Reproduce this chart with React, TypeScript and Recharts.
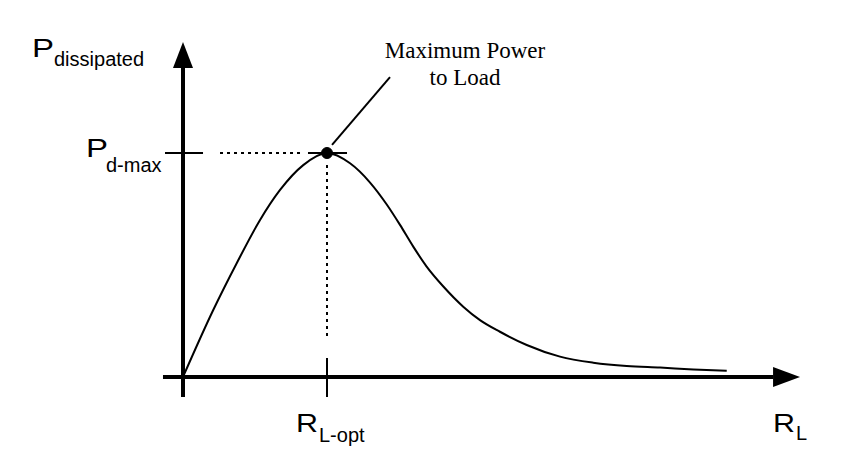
import React from "react";
import { LineChart, Line, XAxis, YAxis, ReferenceLine, ReferenceDot } from "recharts";

// Load resistance (normalised to R_L-opt) and dissipated power (normalised to P_d-max)
const rValues = [0, 0.21, 0.373, 0.535, 0.674, 0.835, 1.0, 1.16, 1.299, 1.415, 1.507, 1.599, 1.692, 1.808, 1.946, 2.0625, 2.201, 2.387, 2.618, 2.849, 3.081, 3.313, 3.544, 3.776];
const pValues = [0, 0.299, 0.508, 0.701, 0.835, 0.946, 1.0, 0.954, 0.868, 0.77, 0.679, 0.582, 0.493, 0.404, 0.314, 0.254, 0.202, 0.143, 0.091, 0.064, 0.049, 0.042, 0.034, 0.028];

const peakR = 1.0;
const peakP = 1.0;
const xArrowTip = 4.285;
const yArrowTip = 1.4955;

const axisLabelY = { main: "P", sub: "dissipated" };
const axisLabelX = { main: "R", sub: "L" };
const peakLabelY = { main: "P", sub: "d-max" };
const peakLabelX = { main: "R", sub: "L-opt" };
const annotationLines = ["Maximum Power", "to Load"];

const data = rValues.map((r, i) => ({ r, p: pValues[i] }));

const SANS = "'Liberation Sans', Arial, Helvetica, sans-serif";
const SERIF = "'Liberation Serif', 'Times New Roman', serif";

const ArrowUp = (props: any) => {
  const { cx, cy } = props;
  return <polygon points={`${cx},${cy} ${cx - 10},${cy + 26} ${cx + 10},${cy + 26}`} fill="#000" />;
};
const ArrowRight = (props: any) => {
  const { cx, cy } = props;
  return <polygon points={`${cx},${cy} ${cx - 27},${cy - 10} ${cx - 27},${cy + 10}`} fill="#000" />;
};

const subLabel = (lab: { main: string; sub: string }, mx: number, my: number, sx: number, sy: number, mainLen: number) => (props: any) => {
  const { cx, cy } = props;
  return (
    <g fontFamily={SANS} fill="#000">
      <text x={cx + mx} y={cy + my} fontSize={25} textLength={mainLen} lengthAdjust="spacingAndGlyphs">{lab.main}</text>
      <text x={cx + sx} y={cy + sy} fontSize={20}>{lab.sub}</text>
    </g>
  );
};

const Annotation = (props: any) => {
  const { cx, cy } = props;
  return (
    <text fontFamily={SERIF} fill="#000" fontSize={23} textAnchor="middle">
      <tspan x={cx + 75} y={cy - 19}>{annotationLines[0]}</tspan>
      <tspan x={cx + 75} y={cy + 8}>{annotationLines[1]}</tspan>
    </text>
  );
};

export default function App() {
  return (
    <div style={{ position: "absolute", left: 0, top: 0, background: "#fff" }}>
      <LineChart width={857} height={465} data={data} margin={{ left: 111, right: 26, top: 41, bottom: 32 }}>
        <XAxis dataKey="r" type="number" domain={[-0.5, 4.5]} hide />
        <YAxis type="number" domain={[-0.25, 1.5]} hide />
        {/* axes */}
        <ReferenceLine segment={[{ x: -0.139, y: 0 }, { x: 4.1, y: 0 }]} stroke="#000" strokeWidth={4} />
        <ReferenceLine segment={[{ x: 0, y: -0.089 }, { x: 0, y: 1.38 }]} stroke="#000" strokeWidth={4} />
        <ReferenceDot x={0} y={yArrowTip} r={0} shape={ArrowUp} />
        <ReferenceDot x={xArrowTip} y={0} r={0} shape={ArrowRight} />
        {/* ticks */}
        <ReferenceLine segment={[{ x: -0.125, y: peakP }, { x: 0.139, y: peakP }]} stroke="#000" strokeWidth={2} />
        <ReferenceLine segment={[{ x: peakR, y: 0.085 }, { x: peakR, y: -0.089 }]} stroke="#000" strokeWidth={2} />
        {/* dotted guides */}
        <ReferenceLine segment={[{ x: 0.257, y: peakP }, { x: 0.813, y: peakP }]} stroke="#000" strokeWidth={2} strokeDasharray="3 4" />
        <ReferenceLine segment={[{ x: peakR, y: 0.946 }, { x: peakR, y: 0.165 }]} stroke="#000" strokeWidth={2} strokeDasharray="3 4" />
        {/* tangent at peak */}
        <ReferenceLine segment={[{ x: 0.868, y: peakP }, { x: 1.139, y: peakP }]} stroke="#000" strokeWidth={2} />
        {/* leader */}
        <ReferenceLine segment={[{ x: 1.035, y: 1.036 }, { x: 1.4375, y: 1.339 }]} stroke="#000" strokeWidth={2} />
        <Line type="monotone" dataKey="p" stroke="#000" strokeWidth={2} dot={false} isAnimationActive={false} />
        <ReferenceDot x={peakR} y={peakP} r={5.5} fill="#000" stroke="#000" />
        {/* labels */}
        <ReferenceDot x={0} y={yArrowTip} r={0} shape={subLabel(axisLabelY, -151, 15, -129, 24, 22)} />
        <ReferenceDot x={0} y={peakP} r={0} shape={subLabel(peakLabelY, -97, 4, -77, 19, 22)} />
        <ReferenceDot x={peakR} y={0} r={0} shape={subLabel(peakLabelX, -31, 55, -8, 65, 22)} />
        <ReferenceDot x={xArrowTip} y={0} r={0} shape={subLabel(axisLabelX, -27, 55, -4, 63, 22)} />
        <ReferenceDot x={1.4375} y={1.339} r={0} shape={Annotation} />
      </LineChart>
    </div>
  );
}
